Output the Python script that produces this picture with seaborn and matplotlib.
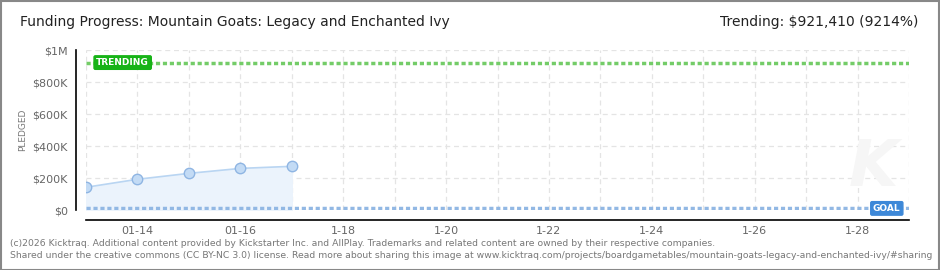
import matplotlib
matplotlib.use("Agg")
import matplotlib.pyplot as plt
import seaborn as sns
import numpy as np
import pandas as pd
from matplotlib.ticker import FixedLocator

# ---- data ----
days = [0, 1, 2, 3, 4]                      # days since 01-13
pledged = [142000, 192000, 229000, 260000, 273000]
goal = 10000
trending = 921410
tick_days = list(range(0, 17))
label_days = [1, 3, 5, 7, 9, 11, 13, 15]
label_texts = ["01-14", "01-16", "1-18", "1-20", "1-22", "1-24", "1-26", "1-28"]
y_major = [0, 200000, 400000, 600000, 800000, 1000000]
y_major_labels = ["$0", "$200K", "$400K", "$600K", "$800K", "$1M"]
y_minor = [100000, 300000, 500000, 700000, 900000]

sns.set_style("white")
plt.rcParams['font.family'] = ['DejaVu Sans']

W, H = 940, 270
fig = plt.figure(figsize=(W / 100, H / 100), dpi=100)
fig.patch.set_facecolor("white")

# border
fig.add_artist(plt.Rectangle((0.5 / W, 0.5 / H), 1 - 1.5 / W, 1 - 1.5 / H,
                             transform=fig.transFigure, fill=False,
                             edgecolor="#888888", linewidth=1.5))

ax = fig.add_axes([86 / W, (H - 210) / H, (909 - 86) / W, 160 / H])
ax.set_xlim(0, 16)
ax.set_ylim(0, 1000000)

# grid
for d in tick_days:
    ax.axvline(d, color="#e4e4e4", lw=0.9, ls=(0, (4, 3)), zorder=0)
for v in y_major:
    ax.axhline(v, color="#e4e4e4", lw=0.9, ls=(0, (4, 3)), zorder=0)

# watermark
ax.text(15.3, 260000, "K", fontsize=46, color="#f6f6f6", ha="center", va="center",
        fontstyle="italic", fontweight="bold", zorder=0)

df = pd.DataFrame({"day": days, "pledged": pledged})
ax.fill_between(df["day"], df["pledged"], color="#ebf3fc", zorder=1)
sns.lineplot(data=df, x="day", y="pledged", ax=ax, color="#b9d5f2", lw=1.2,
             marker="o", markersize=7.5, markerfacecolor="#c3dbf5",
             markeredgecolor="#8fb5e3", markeredgewidth=1, zorder=3)

# goal / trending lines
ax.axhline(goal, color="#92b8e4", lw=2.5, ls=(0, (1.2, 0.8)), zorder=2)
ax.axhline(trending, color="#74cc68", lw=2.5, ls=(0, (1.2, 0.8)), zorder=2)

ax.text(0.2, trending, "TRENDING", color="white", fontsize=6.5, ha="left", va="center",
        fontweight="bold", zorder=5,
        bbox=dict(boxstyle="round,pad=0.25,rounding_size=0.15", fc="#17b317", ec="#17b317"))
ax.text(15.3, goal, "GOAL", color="white", fontsize=6.5, ha="left", va="center",
        fontweight="bold", zorder=5,
        bbox=dict(boxstyle="round,pad=0.25,rounding_size=0.15", fc="#3d88d8", ec="#3d88d8"))

# spines
for s in ["top", "right"]:
    ax.spines[s].set_visible(False)
ax.spines["left"].set_position(("outward", 7.2))
ax.spines["bottom"].set_position(("outward", 7.2))
for s in ["left", "bottom"]:
    ax.spines[s].set_color("black")
    ax.spines[s].set_linewidth(1.2)

ax.xaxis.set_major_locator(FixedLocator(tick_days))
lbls = [label_texts[label_days.index(d)] if d in label_days else "" for d in tick_days]
ax.set_xticklabels(lbls)
ax.tick_params(axis="x", which="major", direction="inout", length=7, width=1.2,
               color="black", labelsize=8, labelcolor="#666666", pad=1)

ax.set_yticks(y_major)
ax.set_yticklabels(y_major_labels)
ax.yaxis.set_minor_locator(FixedLocator(y_minor))
ax.tick_params(axis="y", which="major", direction="out", length=4, width=1.2,
               color="black", labelsize=8, labelcolor="#666666", pad=2)
ax.tick_params(axis="y", which="minor", direction="out", length=4, width=1.2,
               color="#dd0000")
ax.set_xlabel("")
ax.set_ylabel("PLEDGED", fontsize=6.5, color="#777777", labelpad=4)

# titles
fig.text(20 / W, 1 - 22 / H, "Funding Progress: Mountain Goats: Legacy and Enchanted Ivy",
         fontsize=10, color="#222222", ha="left", va="center")
fig.text(918 / W, 1 - 22 / H, "Trending: $921,410 (9214%)",
         fontsize=10, color="#222222", ha="right", va="center")

fig.text(10 / W, 1 - 243 / H,
         "(c)2026 Kicktraq. Additional content provided by Kickstarter Inc. and AllPlay. Trademarks and related content are owned by their respective companies.",
         fontsize=6.65, color="#777777", ha="left", va="center")
fig.text(10 / W, 1 - 256 / H,
         "Shared under the creative commons (CC BY-NC 3.0) license. Read more about sharing this image at www.kicktraq.com/projects/boardgametables/mountain-goats-legacy-and-enchanted-ivy/#sharing",
         fontsize=6.65, color="#777777", ha="left", va="center")

fig.savefig("out.png", dpi=100, facecolor="white")
